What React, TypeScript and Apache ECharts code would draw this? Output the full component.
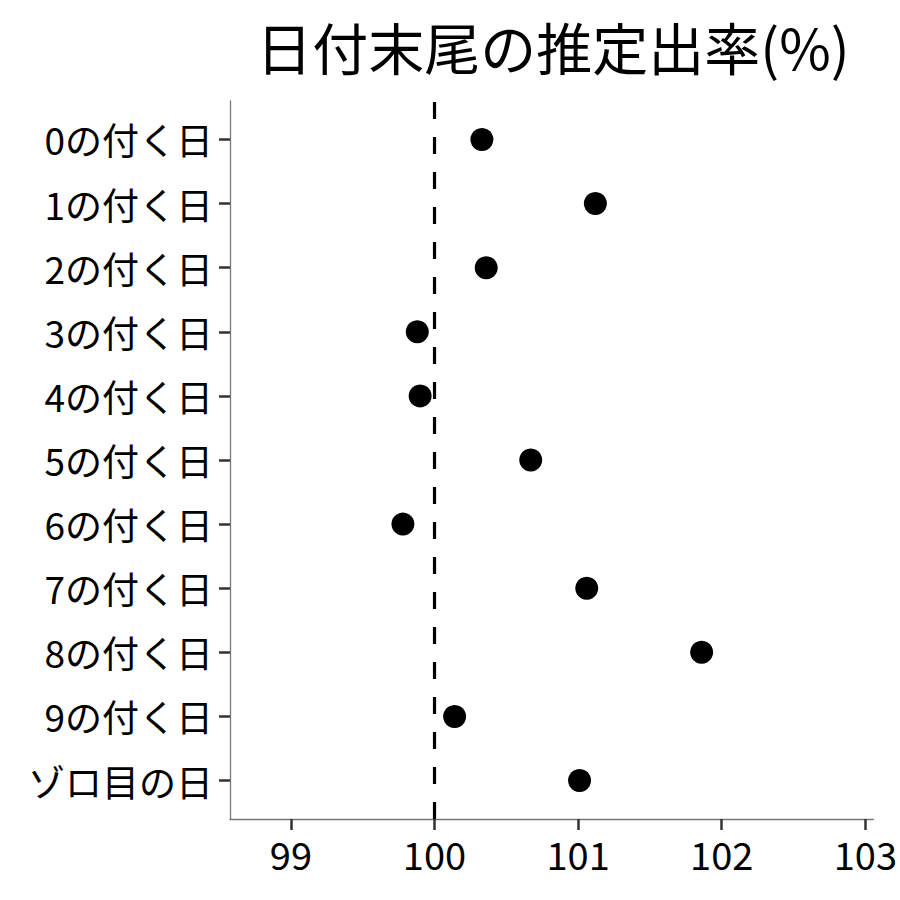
import React, { useEffect, useRef } from "react";
import * as echarts from "echarts";

const TITLE = "日付末尾の推定出率(%)";
const categories = [
  "0の付く日",
  "1の付く日",
  "2の付く日",
  "3の付く日",
  "4の付く日",
  "5の付く日",
  "6の付く日",
  "7の付く日",
  "8の付く日",
  "9の付く日",
  "ゾロ目の日",
];
const rates = [100.33, 101.12, 100.36, 99.88, 99.9, 100.67, 99.78, 101.06, 101.86, 100.14, 101.01];
const xTicks = [99, 100, 101, 102, 103];
const REFERENCE = 100;
const X_MIN = 98.576;
const X_MAX = 103.056;

const FONT = "'Noto Sans CJK JP', 'Noto Sans', sans-serif";

export default function App() {
  const ref = useRef<HTMLDivElement>(null);
  useEffect(() => {
    if (!ref.current) return;
    const chart = echarts.init(ref.current, null, { renderer: "svg" });
    const yIdx = categories.map((_, i) => i);
    const option: any = {
      animation: false,
      backgroundColor: "#ffffff",
      textStyle: { fontFamily: FONT },
      graphic: [
        {
          type: "text",
          x: 553,
          y: 45,
          style: {
            text: TITLE,
            fontSize: 56,
            fontFamily: FONT,
            fill: "#000",
            align: "center",
            verticalAlign: "middle",
          },
        },
      ],
      grid: { left: 230, right: 25, top: 101, bottom: 81, containLabel: false },
      xAxis: {
        type: "value",
        min: X_MIN,
        max: X_MAX,
        splitLine: { show: false },
        axisLine: { show: true, onZero: false, lineStyle: { color: "#777", width: 1.3 } },
        axisTick: { show: true, length: 11, lineStyle: { color: "#333", width: 2.5 }, customValues: xTicks },
        axisLabel: {
          customValues: xTicks,
          fontSize: 38,
          color: "#000",
          fontFamily: FONT,
          margin: 15,
          formatter: (v: number) => String(Math.round(v)),
        },
      },
      yAxis: {
        type: "value",
        min: -0.6,
        max: categories.length - 0.4,
        inverse: true,
        splitLine: { show: false },
        axisLine: { show: true, onZero: false, lineStyle: { color: "#777", width: 1.3 } },
        axisTick: { show: true, length: 11, lineStyle: { color: "#333", width: 2.5 }, customValues: yIdx },
        axisLabel: {
          customValues: yIdx,
          fontSize: 37,
          color: "#000",
          fontFamily: FONT,
          margin: 17,
          formatter: (v: number) => categories[Math.round(v)] ?? "",
        },
      },
      series: [
        {
          type: "line",
          data: [
            [REFERENCE, categories.length - 0.4],
            [REFERENCE, -0.6],
          ],
          symbol: "none",
          lineStyle: { color: "#000", width: 3.2, type: [17, 18], opacity: 1 },
          silent: true,
          z: 1,
        },
        {
          type: "scatter",
          data: rates.map((r, i) => [r, i]),
          symbol: "circle",
          symbolSize: 23,
          itemStyle: { color: "#000", opacity: 1 },
          z: 2,
        },
      ],
    };
    chart.setOption(option);
    return () => chart.dispose();
  }, []);
  return (
    <div
      ref={ref}
      style={{ position: "fixed", left: 0, top: 0, width: 900, height: 900, background: "#fff" }}
    />
  );
}
